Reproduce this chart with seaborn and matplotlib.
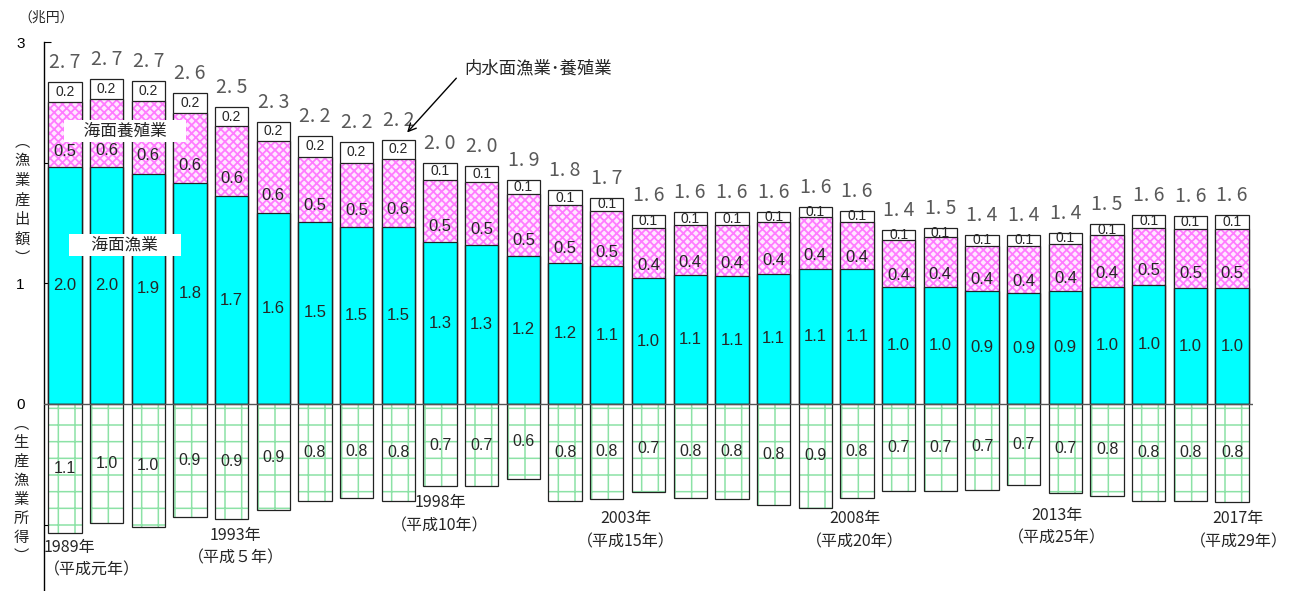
import numpy as np
import pandas as pd
import matplotlib
matplotlib.use("Agg")
import matplotlib.pyplot as plt
import seaborn as sns

# ---------------- data (兆円) ----------------
years = [str(y) for y in range(1989, 2018)]
marine_fishing = [1.96, 1.96, 1.91, 1.83, 1.72, 1.58, 1.51, 1.47, 1.47, 1.34,
                  1.32, 1.23, 1.17, 1.14, 1.04, 1.07, 1.06, 1.08, 1.12, 1.12,
                  0.97, 0.97, 0.94, 0.92, 0.94, 0.97, 0.99, 0.96, 0.96]
marine_aquaculture = [0.54, 0.57, 0.60, 0.58, 0.58, 0.60, 0.54, 0.53, 0.56, 0.52,
                      0.52, 0.51, 0.48, 0.46, 0.42, 0.41, 0.42, 0.43, 0.43, 0.39,
                      0.39, 0.41, 0.37, 0.39, 0.39, 0.43, 0.47, 0.49, 0.49]
inland = [0.17, 0.16, 0.17, 0.17, 0.16, 0.16, 0.17, 0.17, 0.16, 0.14,
          0.13, 0.12, 0.12, 0.11, 0.11, 0.11, 0.11, 0.08, 0.08, 0.09,
          0.08, 0.08, 0.09, 0.09, 0.09, 0.09, 0.11, 0.11, 0.12]
income = [1.07, 0.99, 1.02, 0.94, 0.95, 0.88, 0.80, 0.78, 0.80, 0.68,
          0.68, 0.62, 0.80, 0.79, 0.73, 0.78, 0.79, 0.84, 0.86, 0.78,
          0.72, 0.72, 0.71, 0.67, 0.74, 0.76, 0.80, 0.80, 0.81]

year_label_text = ["1989年\n（平成元年）", "1993年\n（平成５年）", "1998年\n（平成10年）",
                   "2003年\n（平成15年）", "2008年\n（平成20年）", "2013年\n（平成25年）",
                   "2017年\n（平成29年）"]
year_label_x = [-0.5, 4.1, 9.0, 13.45, 18.95, 23.8, 28.15]
year_label_y = [-1.12, -1.02, -0.75, -0.88, -0.88, -0.85, -0.88]
year_label_ha = ["left", "center", "center", "center", "center", "center", "center"]

# ---------------- derived ----------------
mf = np.array(marine_fishing)
ma = np.array(marine_aquaculture)
il = np.array(inland)
inc = np.array(income)
cum2 = mf + ma
total = cum2 + il

df = pd.DataFrame({"year": years, "fishing": mf, "cum2": cum2,
                   "total": total, "neg_income": -inc})

sns.set_style("white")
plt.rcParams["font.family"] = ["Noto Sans CJK JP", "DejaVu Sans"]

fig = plt.figure(figsize=(12.95, 5.91), dpi=100)
ax = fig.add_axes([44 / 1295, 0, (1253 - 44) / 1295, 549 / 591])

common = dict(data=df, x="year", order=years, ax=ax, errorbar=None,
              saturation=1, width=0.8)
EDGE = "#222222"
LW = 0.9

# total (inland = white)
sns.barplot(y="total", color="white", edgecolor=EDGE, linewidth=LW, **common)
# marine aquaculture (pink hatched)
with plt.rc_context({"hatch.linewidth": 1.3}):
    sns.barplot(y="cum2", color="#FFE8FF", edgecolor="#FF7CFF", linewidth=0,
                hatch="xxxx", **common)
# marine fishing (cyan)
sns.barplot(y="fishing", color="#00FFFF", edgecolor=EDGE, linewidth=LW, **common)
# outline of aquaculture segment
sns.barplot(y="cum2", color=EDGE, fill=False, linewidth=LW, **common)
# income (downward, green dotted grid)
with plt.rc_context({"hatch.linewidth": 1.1}):
    sns.barplot(y="neg_income", color="white", edgecolor="#8CE2A6", linewidth=0,
                hatch="+", **common)
sns.barplot(y="neg_income", color=EDGE, fill=False, linewidth=LW, **common)

ax.axhline(0, color="#555555", lw=1.0, zorder=6)

ax.set_xlim(-0.5, 28.5)
ax.set_ylim(-1.55, 3)
ax.set_xlabel("")
ax.set_ylabel("")
ax.set_xticks([])
for s in ["top", "right", "bottom"]:
    ax.spines[s].set_visible(False)
ax.spines["left"].set_color("black")
ax.spines["left"].set_linewidth(1.0)
ax.set_yticks([-1, 0, 1, 2, 3])
ax.set_yticklabels(["", "0", "1", "", "3"], family="Liberation Sans")
ax.tick_params(axis="y", direction="in", length=5, width=0.8, pad=14,
               labelsize=11, left=True, colors="black")

num_font = "Liberation Sans"
for i in range(len(years)):
    ax.text(i, mf[i] / 2, f"{mf[i]:.1f}", ha="center", va="center",
            fontsize=12, family=num_font, zorder=9)
    ax.text(i, mf[i] + ma[i] * 0.25, f"{ma[i]:.1f}", ha="center", va="center",
            fontsize=12, family=num_font, zorder=9)
    ax.text(i, cum2[i] + il[i] / 2, f"{il[i]:.1f}", ha="center", va="center",
            fontsize=10, family=num_font, zorder=9)
    ax.text(i, -inc[i] / 2, f"{inc[i]:.1f}", ha="center", va="center",
            fontsize=11.5, family=num_font, zorder=9)
    ax.annotate(f"{total[i]:.1f}".replace(".", ". "), xy=(i, total[i]),
                xytext=(0, 14), textcoords="offset points", ha="center",
                va="center", fontsize=14, color="#595959")

for x, y, t, ha in zip(year_label_x, year_label_y, year_label_text, year_label_ha):
    ax.text(x, y, t, ha=ha, va="top", multialignment=ha,
            fontsize=11.5, linespacing=1.45)

# legend-like labels
box = dict(boxstyle="square,pad=0.15", fc="white", ec="none")
ax.text(1.44, 2.26, "　海面養殖業　", ha="center", va="center", fontsize=12, bbox=box, zorder=8)
ax.text(1.44, 1.32, "　 海面漁業 　", ha="center", va="center", fontsize=12, bbox=box, zorder=8)

# inland annotation
ax.text(11.34, 2.78, "内水面漁業･養殖業", ha="center", va="center", fontsize=12.5)
ax.annotate("", xy=(8.21, 2.25), xytext=(9.39, 2.70),
            arrowprops=dict(arrowstyle="->", color="black", lw=1.0,
                            shrinkA=0, shrinkB=0, mutation_scale=14))

# vertical axis titles
fig.text(22 / 1295, 1 - 200 / 591, "\n".join("︵漁業産出額︶"), ha="center",
         va="center", fontsize=11, linespacing=1.2)
fig.text(21 / 1295, 1 - 490 / 591, "\n".join("︵生産漁業所得︶"), ha="center",
         va="center", fontsize=11, linespacing=1.15)
fig.text(46 / 1295, 1 - 18 / 591, "（兆円）", ha="center", va="center", fontsize=10)

fig.savefig("out.png", dpi=100)
